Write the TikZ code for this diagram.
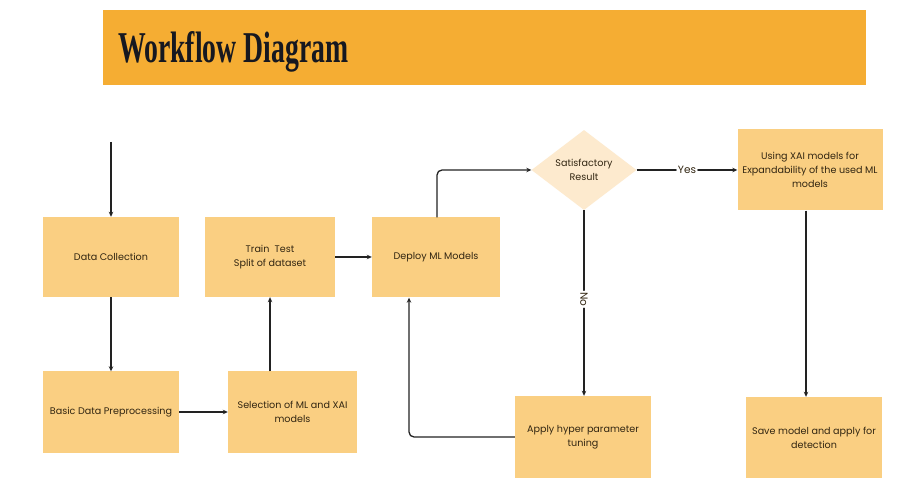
\documentclass[tikz,border=0pt]{standalone}
\usepackage{fontspec}
\setmainfont{Poppins}
\newfontfamily\titlefont{Liberation Serif}
\usetikzlibrary{shapes.geometric,arrows.meta}
\definecolor{barorange}{RGB}{245,173,51}
\definecolor{boxfill}{RGB}{250,207,130}
\definecolor{diafill}{RGB}{253,234,206}
\definecolor{txt}{RGB}{50,38,18}
\definecolor{linec}{RGB}{34,34,34}
\tikzset{
  stepbox/.style={draw=none, fill=boxfill, align=center, font=\fontsize{9.6}{14}\selectfont, text=txt, inner sep=2pt},
  conn/.style={draw=linec, line width=1.3pt, -{Stealth[length=5pt,width=4.5pt]}, rounded corners=5pt},
  lbl/.style={fill=white, font=\fontsize{10.5}{12}\selectfont, text=txt, inner sep=1.5pt}
}
\begin{document}
\begin{tikzpicture}[x=1pt,y=1pt]
\useasboundingbox[fill=white] (0,0) rectangle (899,490);
% title bar
\fill[barorange] (103,405) rectangle (866,480);
\node[anchor=base west, inner sep=0, font=\titlefont\bfseries\fontsize{44}{44}\selectfont, text={rgb,255:red,22;green,24;blue,32}, xscale=0.63, transform shape] (title) at (118,427) {Workflow Diagram};
% nodes
\node[stepbox, minimum width=136pt, minimum height=80pt] (dc) at (111,233) {Data Collection};
\node[stepbox, minimum width=130pt, minimum height=80pt] (tt) at (270,233) {Train\ \ Test\\Split of dataset};
\node[stepbox, minimum width=128pt, minimum height=80pt] (dep) at (436,232.5) {Deploy ML Models};
\node[diamond, fill=diafill, minimum width=105pt, minimum height=80pt, inner sep=0pt, aspect=1.3, align=center, font=\fontsize{9.6}{14}\selectfont, text=txt] (sat) at (584,320) {Satisfactory\\Result};
\node[stepbox, minimum width=145pt, minimum height=81pt] (xai) at (810,320) {Using XAI models for\\Expandability of the used ML\\models};
\node[stepbox, minimum width=136pt, minimum height=81pt] (bdp) at (111,78) {Basic Data Preprocessing};
\node[stepbox, minimum width=129pt, minimum height=81pt] (sel) at (292.5,78) {Selection of ML and XAI\\models};
\node[stepbox, minimum width=136pt, minimum height=82pt] (hyp) at (583,53) {Apply hyper parameter\\tuning};
\node[stepbox, minimum width=136pt, minimum height=81pt] (save) at (814,52.5) {Save model and apply for\\detection};
\coordinate (start) at (111,348);
% connectors
\draw[conn] (start) -- (dc.north);
\draw[conn] (dc.south) -- (bdp.north);
\draw[conn] (bdp.east) -- (sel.west);
\draw[conn] (sel.north -| 270,0) -- (tt.south);
\draw[conn] (tt.east) -- (dep.west |- tt.east);
\draw[conn] (dep.north -| 437,0) |- (sat.west);
\draw[conn] (sat.east) -- node[lbl] {Yes} (xai.west);
\draw[conn] (sat.south -| 584,0) -- node[lbl, rotate=-90, pos=0.48] {No} (hyp.north -| 584,0);
\draw[conn] (xai.south -| 806,0) -- (save.north -| 806,0);
\draw[conn] (hyp.west) -| (dep.south -| 409,0);
\end{tikzpicture}
\end{document}
